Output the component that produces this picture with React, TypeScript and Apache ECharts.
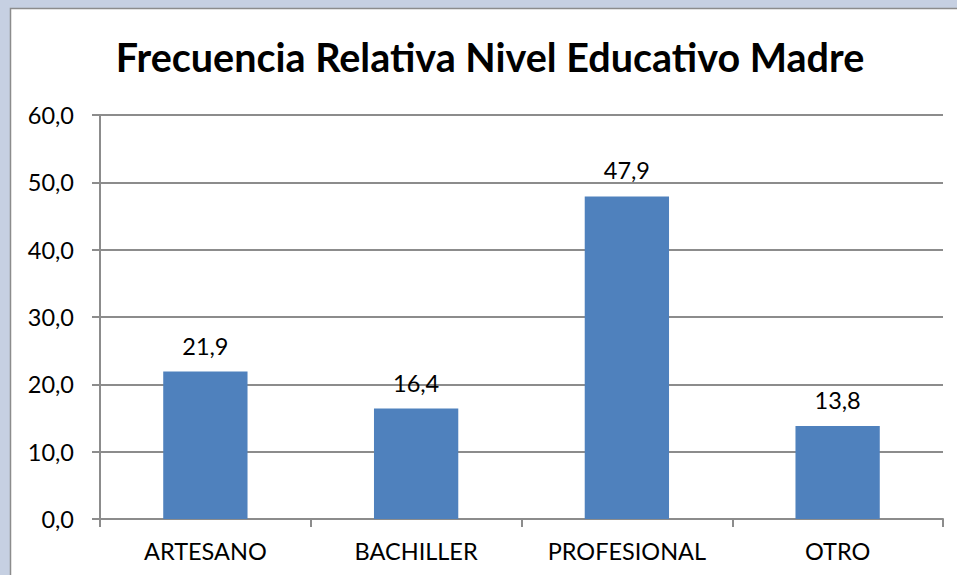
import React, { useEffect, useRef } from "react";
import * as echarts from "echarts";

const categories = ["ARTESANO", "BACHILLER", "PROFESIONAL", "OTRO"];
const values = [21.9, 16.4, 47.9, 13.8];
const titleText = "Frecuencia Relativa Nivel Educativo Madre";

const fmt = (v: number) => v.toFixed(1).replace(".", ",");

export default function App() {
  const ref = useRef<HTMLDivElement>(null);
  useEffect(() => {
    const chart = echarts.init(ref.current!, null, { renderer: "svg" });
    const font = "Lato, 'Open Sans', sans-serif";
    chart.setOption({
      animation: false,
      backgroundColor: "#c6d0e2",
      graphic: [
        {
          type: "rect",
          z: -10,
          silent: true,
          shape: { x: 10.5, y: 8.5, width: 960, height: 600 },
          style: { fill: "#ffffff", stroke: "#8c8c8c", lineWidth: 1.5 },
        },
      ],
      title: {
        text: titleText,
        left: 485,
        textAlign: "center",
        top: 31,
        textStyle: {
          fontFamily: font,
          fontWeight: "bold",
          fontSize: 39.5,
          color: "#000",
        },
      },
      grid: { left: 100, right: 14, top: 115, bottom: 56, containLabel: false },
      xAxis: {
        type: "category",
        data: categories,
        axisLine: { lineStyle: { color: "#8c8c8c", width: 2 } },
        axisTick: {
          show: true,
          alignWithLabel: false,
          length: 8,
          inside: false,
          lineStyle: { color: "#8c8c8c", width: 2 },
        },
        axisLabel: {
          fontFamily: font,
          fontSize: 23.5,
          color: "#000",
          margin: 20,
        },
      },
      yAxis: {
        type: "value",
        min: 0,
        max: 60,
        interval: 10,
        axisLine: { show: true, lineStyle: { color: "#8c8c8c", width: 2 } },
        axisTick: { show: true, length: 8, lineStyle: { color: "#8c8c8c", width: 2 } },
        splitLine: { lineStyle: { color: "#8c8c8c", width: 2 } },
        axisLabel: {
          fontFamily: font,
          fontSize: 23.5,
          color: "#000",
          margin: 26,
          formatter: (v: number) => fmt(v),
        },
      },
      series: [
        {
          type: "bar",
          data: values,
          barWidth: "40%",
          itemStyle: { color: "#4f81bd" },
          label: {
            show: true,
            position: "top",
            distance: 14,
            fontFamily: font,
            fontSize: 23.5,
            color: "#000",
            formatter: (p: any) => fmt(p.value),
          },
        },
      ],
    });
    return () => chart.dispose();
  }, []);
  return (
    <div
      ref={ref}
      style={{ position: "fixed", left: 0, top: 0, width: 957, height: 575 }}
    />
  );
}
